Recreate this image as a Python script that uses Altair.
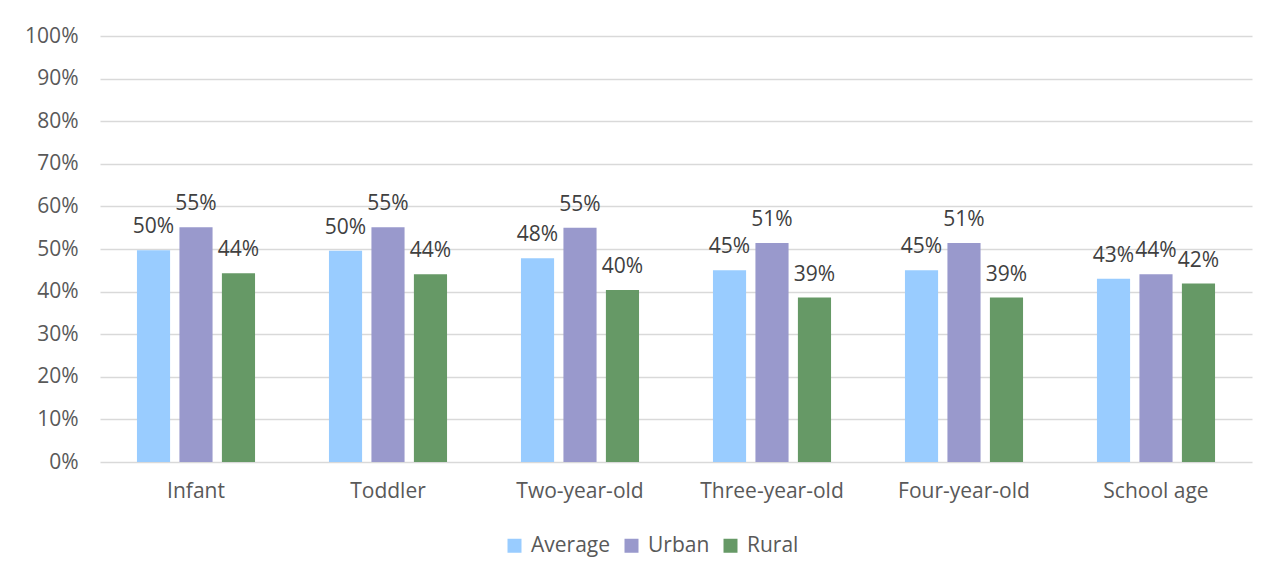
import altair as alt
import pandas as pd

categories = ["Infant", "Toddler", "Two-year-old", "Three-year-old", "Four-year-old", "School age"]
series = ["Average", "Urban", "Rural"]
average = [0.497, 0.496, 0.478, 0.450, 0.450, 0.430]
urban = [0.551, 0.551, 0.550, 0.514, 0.514, 0.441]
rural = [0.443, 0.441, 0.404, 0.386, 0.386, 0.419]
colors = ["#99CCFF", "#9999CC", "#669966"]
y_ticks = [0, 0.1, 0.2, 0.3, 0.4, 0.5, 0.6, 0.7, 0.8, 0.9, 1.0]

rows = []
for i, c in enumerate(categories):
    for s, vals in zip(series, [average, urban, rural]):
        rows.append({"category": c, "series": s, "value": vals[i]})
df = pd.DataFrame(rows)

FONT = "Open Sans"
FS = 21

base = alt.Chart(df).encode(
    x=alt.X("category:N", sort=categories, title=None,
            scale=alt.Scale(paddingInner=0.385, paddingOuter=0.1925),
            axis=alt.Axis(labelAngle=0, ticks=False, domain=False, labelPadding=18,
                          labelFontSize=FS, labelFont=FONT, labelColor="#595959", grid=False)),
    xOffset=alt.XOffset("series:N", sort=series,
                        scale=alt.Scale(paddingInner=0.22, paddingOuter=0)),
    y=alt.Y("value:Q", title=None,
            scale=alt.Scale(domain=[0, 1]),
            axis=alt.Axis(values=y_ticks, format=".0%", ticks=False, domain=False,
                          labelPadding=22, labelFontSize=FS, labelFont=FONT,
                          labelColor="#595959", gridColor="#D9D9D9", gridWidth=1.5)),
)

bars = base.mark_bar().encode(
    color=alt.Color("series:N", sort=series,
                    scale=alt.Scale(domain=series, range=colors),
                    legend=alt.Legend(orient="none", legendX=404, legendY=499,
                                      direction="horizontal", title=None,
                                      symbolType="square", symbolSize=196, symbolStrokeWidth=0,
                                      labelFontSize=FS, labelFont=FONT, labelColor="#595959",
                                      columnPadding=10, labelOffset=6))
)

labels = base.mark_text(baseline="alphabetic", dy=-17, fontSize=FS, font=FONT,
                        color="#404040").encode(
    text=alt.Text("value:Q", format=".0%")
)

chart = alt.layer(bars, labels).properties(
    width=1152, height=426,
    autosize=alt.AutoSizeParams(type="none"),
    padding={"left": 92, "top": 28, "right": 8, "bottom": 108},
).configure(background="white").configure_view(strokeWidth=0, stroke=None)

chart.save("out.html", embed_options={"renderer": "svg", "actions": False})
